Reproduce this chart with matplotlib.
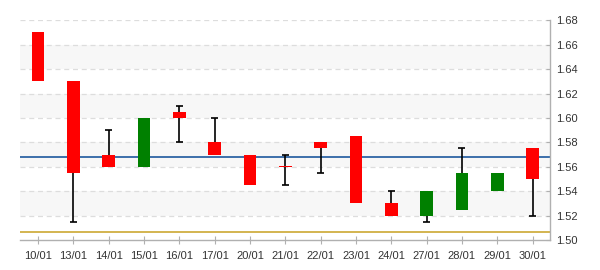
import matplotlib
matplotlib.use('Agg')
import matplotlib.pyplot as plt

# daily candles
dates = ['10/01', '13/01', '14/01', '15/01', '16/01', '17/01', '20/01', '21/01',
         '22/01', '23/01', '24/01', '27/01', '28/01', '29/01', '30/01']
opens = [1.670, 1.630, 1.570, 1.560, 1.605, 1.580, 1.570, 1.561,
         1.580, 1.585, 1.530, 1.520, 1.525, 1.540, 1.575]
closes = [1.630, 1.555, 1.560, 1.600, 1.600, 1.570, 1.545, 1.560,
          1.575, 1.530, 1.520, 1.540, 1.555, 1.555, 1.550]
highs = [1.670, 1.630, 1.590, 1.600, 1.610, 1.600, 1.570, 1.570,
         1.580, 1.585, 1.540, 1.540, 1.575, 1.555, 1.575]
lows = [1.630, 1.515, 1.560, 1.560, 1.580, 1.570, 1.545, 1.545,
        1.555, 1.530, 1.520, 1.515, 1.525, 1.540, 1.520]
blue_level = 1.568
gold_level = 1.5065
y_ticks = [1.50, 1.52, 1.54, 1.56, 1.58, 1.60, 1.62, 1.64, 1.66, 1.68]

plt.rcParams['font.family'] = ['Liberation Sans', 'DejaVu Sans']

fig = plt.figure(figsize=(6, 2.7), dpi=100)
ax = fig.add_axes([0.034, 0.111, 0.883, 0.814])

# alternating shaded bands
for lo in [1.52, 1.56, 1.60, 1.64]:
    ax.axhspan(lo, lo + 0.02, color='#f7f7f7', zorder=0, lw=0)
for t in y_ticks[1:]:
    ax.axhline(t, color='#dddddd', lw=0.9, ls=(0, (4, 3)), zorder=1)

x = range(len(dates))
wick = dict(color='black', lw=1.2, zorder=3, solid_capstyle='butt')
# wicks only where they stick out of the body, each with a cap
for i in x:
    top = max(opens[i], closes[i])
    bot = min(opens[i], closes[i])
    if highs[i] > top:
        ax.plot([i, i], [top, highs[i]], **wick)
        ax.plot([i - 0.1, i + 0.1], [highs[i], highs[i]], **wick)
    if lows[i] < bot:
        ax.plot([i, i], [lows[i], bot], **wick)
        ax.plot([i - 0.1, i + 0.1], [lows[i], lows[i]], **wick)

# bodies
for i in x:
    col = '#008000' if closes[i] > opens[i] else '#ff0000'
    bottom = min(opens[i], closes[i])
    height = abs(closes[i] - opens[i])
    ax.bar(i, height, 0.36, bottom=bottom, color=col, zorder=4, lw=0)

ax.axhline(blue_level, color='#0a4a96', lw=1.1, zorder=2)
ax.axhline(gold_level, color='#c8a020', lw=1.1, zorder=2)

ax.set_xlim(-0.5, 14.5)
ax.set_ylim(1.50, 1.68)
ax.set_xticks(list(x))
ax.set_xticklabels(dates)
ax.set_yticks(y_ticks)
ax.set_yticklabels(['%.2f' % v for v in y_ticks])
ax.yaxis.tick_right()

for s in ['left', 'top']:
    ax.spines[s].set_visible(False)
for s in ['right', 'bottom']:
    ax.spines[s].set_color('#b0b0b0')
    ax.spines[s].set_linewidth(1.0)

ax.tick_params(axis='x', direction='inout', length=6, color='#b0b0b0',
               labelsize=8, labelcolor='#333333', pad=5)
ax.tick_params(axis='y', direction='in', length=3, color='#b0b0b0',
               labelsize=8, labelcolor='#333333', pad=4)

fig.savefig('out.png', dpi=100)
